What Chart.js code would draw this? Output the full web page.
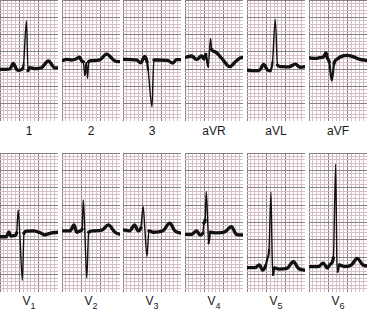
<!DOCTYPE html>
<html>
<head>
<meta charset="utf-8">
<script src="https://cdn.jsdelivr.net/npm/chart.js@4/dist/chart.umd.min.js"></script>
<style>
  body { margin: 0; background: #fff; width: 367px; height: 312px; position: relative; overflow: hidden;
         font-family: "Liberation Sans", Arial, sans-serif; }
  canvas { position: absolute; }
  .lbl { position: absolute; width: 58px; text-align: center; font-size: 12px; line-height: 14px; color: #1a1a1a; }
  .lbl sub { font-size: 9px; vertical-align: -4px; line-height: 0; }
</style>
</head>
<body>
<script>
// lead names (V leads get subscript numbers)
const leadNames = ["1", "2", "3", "aVR", "aVL", "aVF", "V1", "V2", "V3", "V4", "V5", "V6"];

// each lead: [time in small squares, amplitude in mm relative to baseline]
const lead1 = [[0,0],[1.5,0],[2.6,0.1],[3.4,1.7],[4.3,0],[5,-0.3],[5.9,0.3],[6.1,1.5],[6.85,14],[7.25,-0.4],[7.6,0.5],[9,0.2],[10,0.3],[10.8,0.5],[12.5,2.4],[14.2,0.4],[15,0.4]];
const lead2 = [[0,0],[1.2,0.4],[2.5,0.2],[3.6,0.5],[4.5,1.0],[5.2,-0.2],[5.5,-0.3],[5.9,-4.1],[6.3,-0.6],[6.6,-5.1],[6.9,-0.3],[7.5,0],[9.8,0.2],[11.5,1.9],[13.7,-0.1],[15,-0.3]];
const lead3 = [[0,0],[3.5,-0.2],[4.6,-1.0],[5.6,0.8],[6.2,-0.7],[6.5,-3],[7.5,-13.7],[7.75,-6],[8.0,-0.2],[9,-0.2],[11.5,-0.3],[12.9,-1.1],[13.8,-0.1],[15,-0.1]];
const leadAVR = [[0,0],[1.7,0.4],[3.0,-0.6],[4.3,0.4],[4.9,-0.5],[5.4,0.9],[6.0,-2.7],[6.6,5.5],[6.9,2.3],[7.8,1.6],[9.5,-0.3],[11.6,-2.7],[12.9,-1.4],[14.2,-0.2],[15,0]];
const leadAVL = [[0,0],[2.1,-0.2],[3.3,0],[4.3,1.6],[5.3,0],[6.0,-0.2],[6.6,2.3],[7.3,14.6],[7.9,1.4],[8.6,1.0],[10.8,0.9],[12.5,1.7],[13.8,0.8],[15,1.0]];
const leadAVF = [[0,0],[1.6,-0.2],[2.8,0],[3.7,0.2],[4.4,1.4],[4.8,-0.2],[5.2,-1.1],[5.9,-6.6],[6.5,-1.6],[7.3,-0.4],[8.4,0.4],[9.9,0.7],[11.4,0.3],[13.2,-0.5],[15,-0.8]];
const leadV1 = [[0,0],[1.6,0],[2.3,1.4],[2.8,0.2],[3.9,0.4],[4.3,1.1],[4.7,7.7],[5.2,-1],[5.8,-12.5],[6.2,1.0],[6.9,1.6],[8.6,1.7],[10.3,1.2],[11.6,0.5],[12.9,1.0],[15,1.3]];
const leadV2 = [[0,0],[2.1,0],[3.1,1.7],[3.8,-0.4],[4.8,0],[5.2,0.5],[5.5,8.9],[5.9,0],[6.4,-13.6],[6.9,-0.4],[8.1,0],[10.3,0.2],[12.0,1.7],[13.7,-0.4],[15,-1.0]];
const leadV3 = [[0,0],[1.7,-0.3],[3.0,1.4],[3.9,-0.3],[4.6,0.5],[5.2,6.7],[5.6,1.2],[6.2,-7.7],[6.7,-0.3],[7.8,-0.7],[10.3,-0.3],[12.1,1.9],[13.4,-0.3],[15,-1.0]];
const leadV4 = [[0,0],[1.7,0],[3.0,1.0],[3.9,-0.2],[4.6,0.3],[4.9,3.2],[5.2,4.1],[5.5,12.3],[5.9,2.7],[6.1,-2.6],[6.5,0.6],[8.2,0.4],[10.3,0.7],[12.0,2.2],[13.3,0],[15,-0.2]];
const leadV5 = [[0,0],[2.1,0],[3.2,0.8],[4.0,-0.7],[4.8,0.5],[5.3,2.7],[5.7,5.1],[6.2,21.7],[6.5,3.7],[6.7,-2.1],[7.1,-0.1],[8.2,-0.4],[10.3,-0.2],[12.0,1.7],[13.3,-0.2],[15,-0.7]];
const leadV6 = [[0,0],[2.4,0],[3.7,1.0],[4.7,-0.4],[5.6,0.8],[6.3,2.5],[6.9,29.5],[7.2,2.5],[7.4,-1.5],[7.8,0.5],[9.3,0],[11.0,0.5],[12.5,2.4],[13.9,0.5],[15,0.2]];

const leads = [lead1, lead2, lead3, leadAVR, leadAVL, leadAVF, leadV1, leadV2, leadV3, leadV4, leadV5, leadV6];

// layout
const colX = [0, 62, 123, 185, 247, 309];
const panelW = 58;
const rows = [
  { top: 0,   h: 121, squares: 35, labelTop: 124, baseline: [14.95, 17.45, 17.85, 18.4, 14.75, 18.3] },
  { top: 153, h: 139, squares: 40, labelTop: 294, baseline: [15.9, 17.6, 17.9, 16.6, 7.0, 7.3] }
];
const minorColor = "#d3bfc4";
const majorColor = "#897e82";

function gridColor(ctx) {
  return ctx.tick && Math.round(ctx.tick.value) % 5 === 0 ? majorColor : minorColor;
}

function traceWidth(ctx) {
  const a = ctx.p0.parsed, b = ctx.p1.parsed;
  const slope = Math.abs((b.y - a.y) / (b.x - a.x));
  if (slope > 9) return 1.4;
  if (slope > 4) return 2.2;
  return 3.3;
}

leads.forEach((lead, i) => {
  const row = rows[Math.floor(i / 6)];
  const col = i % 6;
  const base = row.baseline[col];

  const canvas = document.createElement("canvas");
  canvas.width = panelW;
  canvas.height = row.h;
  canvas.style.left = colX[col] + "px";
  canvas.style.top = row.top + "px";
  document.body.appendChild(canvas);

  new Chart(canvas.getContext("2d"), {
    type: "line",
    data: {
      datasets: [{
        data: lead.map(p => ({ x: p[0], y: base + p[1] })),
        borderColor: "#111",
        borderWidth: 3.3,
        borderCapStyle: "round",
        borderJoinStyle: "round",
        pointRadius: 0,
        cubicInterpolationMode: "monotone",
        segment: { borderWidth: traceWidth }
      }]
    },
    options: {
      responsive: false,
      animation: false,
      events: [],
      layout: { padding: 0 },
      plugins: { legend: { display: false }, tooltip: { enabled: false } },
      scales: {
        x: {
          type: "linear", min: 0, max: 15,
          ticks: { stepSize: 1, display: false },
          grid: { color: gridColor, lineWidth: 1, drawTicks: false },
          border: { display: false }
        },
        y: {
          type: "linear", min: 0, max: row.squares,
          ticks: { stepSize: 1, display: false },
          grid: { color: gridColor, lineWidth: 1, drawTicks: false },
          border: { display: false }
        }
      }
    }
  });

  const lbl = document.createElement("div");
  lbl.className = "lbl";
  lbl.style.left = colX[col] + "px";
  lbl.style.top = row.labelTop + "px";
  const name = leadNames[i];
  lbl.innerHTML = name[0] === "V" ? "V<sub>" + name.slice(1) + "</sub>" : name;
  document.body.appendChild(lbl);
});
</script>
</body>
</html>
